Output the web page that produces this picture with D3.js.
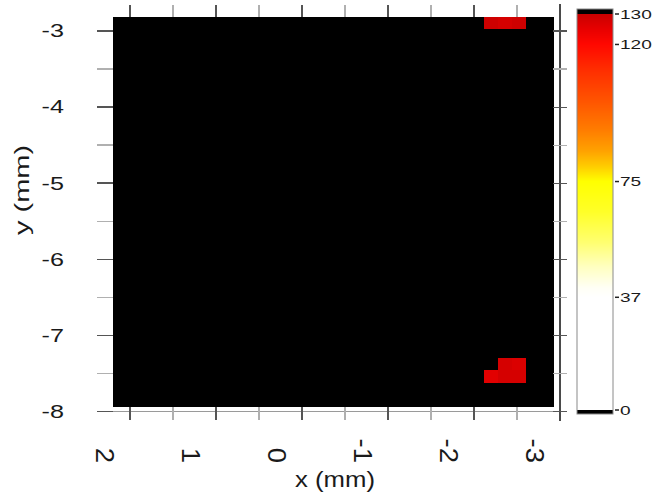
<!DOCTYPE html>
<html>
<head>
<meta charset="utf-8">
<script src="https://cdn.jsdelivr.net/npm/d3@7"></script>
<style>
  body { margin: 0; background: #fff; }
  svg { display: block; }
  text { font-family: "Liberation Sans", Arial, sans-serif; fill: #1a1a1a; }
</style>
</head>
<body>
<svg id="chart" width="652" height="494"></svg>
<script>
// ---- data -------------------------------------------------------------
// Pixel grid (mm): origin of the first column/row and cell pitch
const gridX0 = 2.20;
const gridY0 = -2.82;
const cellSize = 0.16;
const nCols = 32;
const nRows = 32;

// Cells with a non-zero count (all other cells are 0)
const hotCols   = [27, 28, 29, 28, 29, 27, 28, 29];
const hotRows   = [0, 0, 0, 28, 28, 29, 29, 29];
const hotValues = [129, 128, 129, 128, 127, 126, 128, 128];

// Axis ticks
const xTicks = [2, 1, 0, -1, -2, -3];
const xMinorTicks = [1.5, 0.5, -0.5, -1.5, -2.5];
const yTicks = [-3, -4, -5, -6, -7, -8];
const yMinorTicks = [-3.5, -4.5, -5.5, -6.5, -7.5];

// Colour key
const colorTicks = [130, 120, 75, 37, 0];
const colorStopValues = [0, 37, 40, 47, 55, 65, 75, 80, 85, 92, 102, 112, 120, 125, 130];
const colorStopColors = ["#ffffff", "#ffffff", "#fffff6", "#ffffc0", "#ffff70", "#ffff28",
  "#ffff00", "#ffcc00", "#ffa200", "#ff7c00", "#ff5200", "#ff2c00", "#ff0800", "#e80000", "#c80000"];
const colorMin = 0, colorMax = 130;

// ---- scales -------------------------------------------------------------
const svg = d3.select("#chart");

const x = d3.scaleLinear().domain([2, -3]).range([130, 560]);
const y = d3.scaleLinear().domain([-3, -8]).range([31, 411.5]);
const heat = d3.scaleLinear().domain(colorStopValues).range(colorStopColors).clamp(true);
const cellColor = v => (v <= colorMin || v > colorMax) ? "#000000" : heat(v);

// Build the full grid of counts
const grid = [];
for (let r = 0; r < nRows; r++) {
  for (let c = 0; c < nCols; c++) grid.push({ c, r, v: 0 });
}
hotCols.forEach((c, i) => { grid[hotRows[i] * nCols + c].v = hotValues[i]; });

// ---- image cells --------------------------------------------------------
const cellX = c => gridX0 - c * cellSize;       // left edge (x axis runs right-to-left)
const cellY = r => gridY0 - r * cellSize;       // top edge

svg.append("g")
  .attr("shape-rendering", "crispEdges")
  .selectAll("rect")
  .data(grid)
  .join("rect")
  .attr("x", d => x(cellX(d.c)))
  .attr("y", d => y(cellY(d.r)))
  .attr("width", d => x(cellX(d.c) - cellSize) - x(cellX(d.c)) + 0.5)
  .attr("height", d => y(cellY(d.r) - cellSize) - y(cellY(d.r)) + 0.5)
  .attr("fill", d => cellColor(d.v));

// ---- frame lines and ticks ---------------------------------------------
const axes = svg.append("g").attr("shape-rendering", "crispEdges");

// axis line at y = -8 across the bottom
axes.append("line")
  .attr("x1", 97).attr("x2", 567)
  .attr("y1", y(-8)).attr("y2", y(-8))
  .attr("stroke", "#9a9a9a").attr("stroke-width", 1.5);

// axis line at x = -3 on the right
axes.append("line")
  .attr("x1", x(-3)).attr("x2", x(-3))
  .attr("y1", 4).attr("y2", 421)
  .attr("stroke", "#4a4a4a").attr("stroke-width", 1.5);

const yLeft = x(gridX0);
const xTop = y(gridY0);
const xBottom = y(gridY0 - nRows * cellSize);

function tickSet(values, major) {
  const col = major ? "#555" : "#b0b0b0";
  // left ticks
  axes.selectAll(null).data(values).join("line")
    .attr("x1", 97).attr("x2", yLeft)
    .attr("y1", d => y(d)).attr("y2", d => y(d))
    .attr("stroke", col).attr("stroke-width", 1.5);
  // right ticks
  axes.selectAll(null).data(values).join("line")
    .attr("x1", x(-3) - 7).attr("x2", x(-3) + 7)
    .attr("y1", d => y(d)).attr("y2", d => y(d))
    .attr("stroke", col).attr("stroke-width", 1.2);
}
function xTickSet(values, major) {
  const col = major ? "#555" : "#b0b0b0";
  axes.selectAll(null).data(values).join("line")
    .attr("x1", d => x(d)).attr("x2", d => x(d))
    .attr("y1", 5).attr("y2", xTop)
    .attr("stroke", col).attr("stroke-width", 1.5);
  axes.selectAll(null).data(values).join("line")
    .attr("x1", d => x(d)).attr("x2", d => x(d))
    .attr("y1", xBottom).attr("y2", 420)
    .attr("stroke", col).attr("stroke-width", 1.5);
}
tickSet(yMinorTicks, false);
tickSet(yTicks, true);
xTickSet(xMinorTicks, false);
xTickSet(xTicks.filter(d => d !== -3), true);

// ---- text helpers ------------------------------------------------------
function label(g, txt, px, py, opts) {
  const o = Object.assign({ rotate: 0, stretch: 1, size: 18, anchor: "start", dy: "0.35em" }, opts);
  return g.append("text")
    .attr("transform", `translate(${px},${py}) rotate(${o.rotate}) scale(${o.stretch},1)`)
    .attr("text-anchor", o.anchor)
    .attr("dy", o.dy)
    .style("font-size", o.size + "px")
    .text(txt);
}

const labels = svg.append("g");

// y tick labels
yTicks.forEach(v => label(labels, String(v), 64, y(v),
  { anchor: "end", size: 18, stretch: 1.4 }));

// x tick labels (rotated, set slightly left of their ticks)
xTicks.forEach(v => label(labels, String(v), x(v) - 25, 463,
  { anchor: "end", rotate: 90, size: 25, stretch: 1.1 }));

// axis titles
label(labels, "y (mm)", 22, 190, { anchor: "middle", rotate: -90, size: 20, stretch: 1.45 });
label(labels, "x (mm)", 335, 487, { anchor: "middle", size: 22, stretch: 1.17, dy: 0 });

// ---- colour key --------------------------------------------------------
const keyX = 577, keyW = 36;
const cy = d3.scaleLinear().domain([0, 130]).range([410, 14]);
const keyLo = cy.invert(414), keyHi = cy.invert(9);

const key = svg.append("g");
// one strip per pixel row, coloured through the same scale as the cells
const strips = d3.range(Math.floor(cy(keyHi)), Math.ceil(cy(keyLo)));
key.append("g").attr("shape-rendering", "crispEdges")
  .selectAll("rect").data(strips).join("rect")
  .attr("x", keyX).attr("width", keyW)
  .attr("y", d => d).attr("height", 1.2)
  .attr("fill", d => {
    const v = cy.invert(d + 0.5);
    return (v < colorMin || v > colorMax) ? "#000" : heat(v);
  });
key.append("rect")
  .attr("x", keyX).attr("y", cy(keyHi)).attr("width", keyW).attr("height", cy(keyLo) - cy(keyHi))
  .attr("fill", "none").attr("stroke", "#8a8a8a").attr("stroke-width", 1);

key.selectAll("line.kt").data(colorTicks).join("line")
  .attr("x1", 615).attr("x2", 619)
  .attr("y1", d => cy(d)).attr("y2", d => cy(d))
  .attr("stroke", "#222").attr("stroke-width", 1.5);
colorTicks.forEach(v => label(key, String(v), 620, cy(v), { size: 13, stretch: 1.47 }));
</script>
</body>
</html>
